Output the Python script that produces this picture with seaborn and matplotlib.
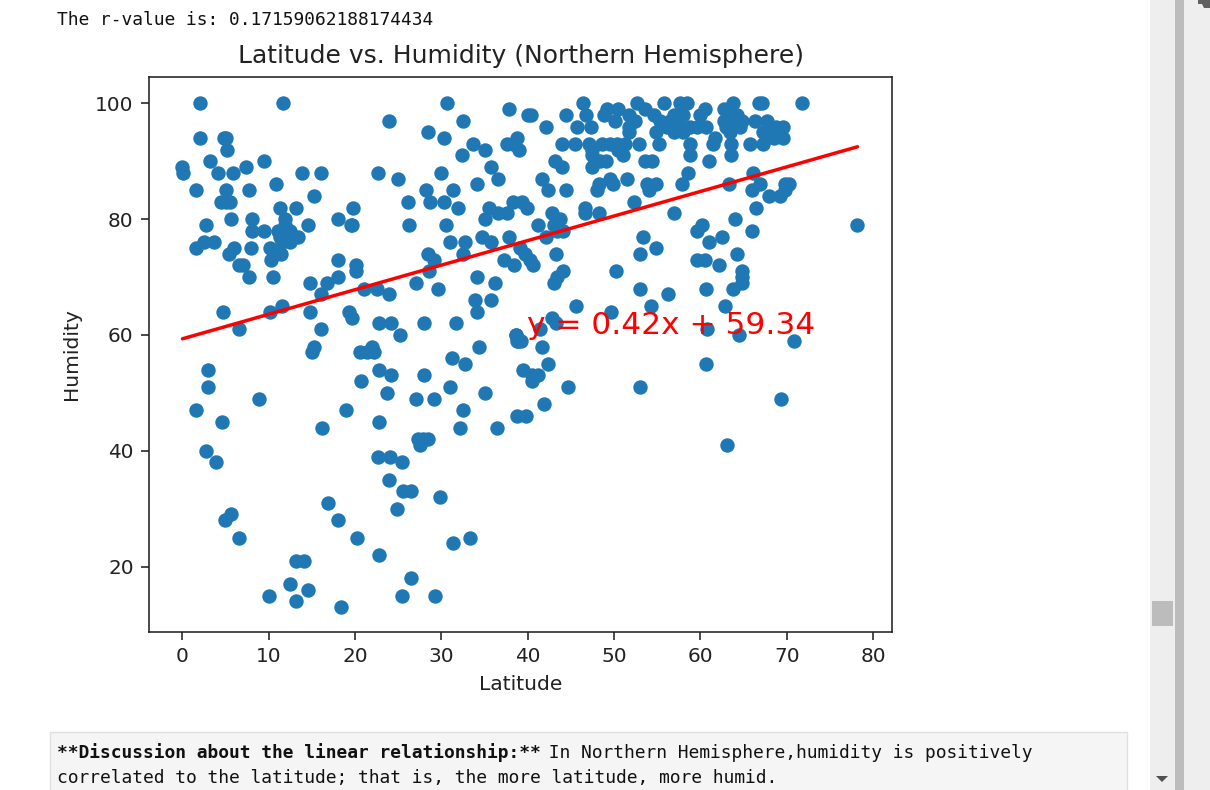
import matplotlib
matplotlib.use("Agg")
import matplotlib.pyplot as plt
from matplotlib.patches import Rectangle, Polygon
import numpy as np
import pandas as pd
import seaborn as sns

# west part of the cloud, upper half
lat_a = [2.0,11.7,2.0,4.8,5.0,5.2,0.0,0.1,3.2,4.1,5.8,7.4,9.4,13.8,16.0,10.8,1.6,5.0,7.7,15.2,
         4.5,5.0,5.5,11.3,13.2,19.8,5.6,8.1,11.9,18.0,19.6,19.5,2.7,14.5,8.0,9.4,11.1,12.5,11.9,
         11.3,13.4,12.6,2.5,3.7,1.6,6.0,7.9,10.1,5.4,12.5,11.5,10.7,11.4,10.3,18.0,6.5,7.0,20.1,20.1,
         7.7,10.5,18.0,14.8,16.8,16.1,21.0,22.5,23.9,27.1,29.6,28.6,28.4,29.1,32.5,32.7,31.0,30.5,26.3,
         26.1,28.2,28.7,30.3,31.3,31.9,34.1,35.5,35.1,36.5,35.7,33.7,35.1,32.4,37.6,38.8,39.0,37.8,40.0,
         32.5,30.6,28.4,30.3,23.9,30.0,22.7,25.0,34.7,35.8,37.8,36.6,37.6,38.3,39.3,39.9,34.1,36.2,33.9,
         35.8,34.1,4.7,10.1,11.5,14.8,19.3,19.6,6.5,16.0,22.8,24.1,25.2,28.0,31.7,34.3,38.6,38.9,15.2,
         15.0,20.6,21.9,21.4,22.2]
hum_a = [100,100,94,94,94,92,89,88,90,88,88,89,90,88,88,86,85,85,85,84,
         83,83,83,82,82,82,80,80,80,80,79,79,79,79,78,78,78,78,79,
         77,77,77,76,76,75,75,75,75,74,76,76,74,74,73,73,72,72,72,71,
         70,70,70,69,69,67,68,68,67,69,68,71,74,73,74,76,76,79,79,
         83,85,83,83,85,82,86,82,80,87,89,93,92,91,93,94,92,99,98,
         97,100,95,94,97,88,88,87,77,76,77,81,81,83,83,82,70,69,66,
         66,64,64,64,65,64,64,63,61,61,62,62,60,62,62,58,60,59,58,
         57,57,58,57,57]

# west part of the cloud, lower half
lat_b = [2.9,2.9,8.9,1.6,4.6,2.7,3.9,5.6,4.9,6.5,13.1,14.1,12.4,14.5,10.0,13.1,18.4,16.2,19.0,22.8,
         20.7,23.7,22.8,24.2,28.0,27.1,29.1,31.0,31.2,32.7,35.0,32.5,32.2,36.4,38.8,39.8,39.5,40.5,
         27.3,28.4,27.5,27.9,22.6,24.0,25.4,23.9,25.6,26.5,29.8,24.9,16.9,18.0,20.2,22.8,26.5,25.4,
         29.3,31.3,33.3]
hum_b = [54,51,49,47,45,40,38,29,28,25,21,21,17,16,15,14,13,44,47,45,
         52,50,54,53,53,49,49,51,56,55,50,47,44,44,46,46,54,52,
         42,42,41,42,39,39,38,35,33,33,32,30,31,28,25,22,18,15,
         15,24,25]

# east part of the cloud
lat_c = [40.4,44.4,42.1,46.4,46.8,45.7,47.3,44.0,45.5,47.1,48.6,49.5,50.3,51.3,52.9,55.2,49.2,50.5,48.8,50.1,
         51.7,52.4,51.7,51.7,52.7,53.6,54.6,55.3,54.9,55.8,57.6,58.4,57.0,58.0,56.5,57.6,56.1,57.0,58.0,
         58.8,58.8,61.0,60.5,60.0,59.6,60.7,58.8,61.7,61.5,62.7,63.8,63.2,64.2,62.7,63.6,64.8,63.0,64.6,63.4,
         63.5,63.6,65.8,66.8,67.1,66.3,67.7,67.3,67.3,68.8,69.6,68.6,69.6,68.5,71.8,47.5,47.5,48.4,49.1,47.5,47.8,
         51.0,50.5,53.6,54.4,43.2,44.0,58.6,57.9,66.1,66.9,66.0,63.3,41.6,42.3,44.4,48.2,48.0,49.5,49.9,51.5,
         53.8,54.1,54.9,52.3,46.6,46.6,48.2,42.8,43.7,41.2,42.1,43.0,44.1,43.4,43.3,39.7,40.6,40.3,
         44.1,43.0,43.4,57.0,66.4,64.0,60.2,59.6,66.0,53.4,54.9,53.0,62.5,61.0,64.3,59.6,60.5,62.2,50.2,
         64.8,64.8,64.8,63.8,60.7,53.0,56.3,54.3,62.9,45.6,49.7,42.8,43.3,41.4,39.2,41.7,60.8,64.5,70.9,
         42.4,60.7,78.2,67.9,69.2,69.8,69.8,70.3]
hum_c = [98,98,96,100,98,96,96,93,93,93,93,93,93,93,93,93,99,99,98,97,
         98,97,96,95,100,99,98,97,95,100,100,100,98,98,97,96,96,95,95,
         93,91,90,99,98,96,96,96,94,93,99,100,98,98,97,97,97,96,96,95,
         93,91,93,100,100,97,97,95,93,96,96,95,94,94,100,91,89,90,90,92,90,
         91,92,90,90,90,89,88,86,88,86,85,86,87,85,85,86,85,87,86,87,
         86,85,86,83,82,81,81,81,80,79,77,79,78,78,74,74,72,73,
         71,69,70,81,82,80,79,78,78,77,75,74,77,76,74,73,73,72,71,
         71,70,69,68,68,68,67,65,65,65,64,63,62,61,59,58,61,60,59,
         55,55,79,84,84,85,86,86]

# remaining scattered points
lat_d = [53.0,63.1,69.3,44.7,41.9,38.6,38.8,40.5,41.2,37.2,38.4,39.1,38.3]
hum_d = [51,41,49,51,48,60,59,53,53,73,72,75,93]

fit_lat = [0.0, 78.2]
fit_hum = [59.34, 92.5]
equation = "y = 0.42x + 59.34"
rvalue_text = "The r-value is: 0.17159062188174434"
title = "Latitude vs. Humidity (Northern Hemisphere)"
x_ticks = [0, 10, 20, 30, 40, 50, 60, 70, 80]
y_ticks = [20, 40, 60, 80, 100]
note_bold = "**Discussion about the linear relationship:**"
note_rest = " In Northern Hemisphere,humidity is positively"
note_line2 = "correlated to the latitude; that is, the more latitude, more humid."

W, H = 1210, 790
sns.set_theme(style="ticks", rc={"axes.grid": False})
plt.rcParams["font.family"] = ["DejaVu Sans"]

df = pd.DataFrame({"Latitude": lat_a + lat_b + lat_c + lat_d,
                   "Humidity": hum_a + hum_b + hum_c + hum_d})
fit = pd.DataFrame({"Latitude": fit_lat, "Humidity": fit_hum})

fig = plt.figure(figsize=(W / 100, H / 100), dpi=100, facecolor="white")


def rect(x0, y0, x1, y1, **kw):
    fig.add_artist(Rectangle((x0 / W, 1 - y1 / H), (x1 - x0) / W, (y1 - y0) / H,
                             transform=fig.transFigure, **kw))


def label(x, y, s, **kw):
    fig.text(x / W, 1 - y / H, s, va="center", ha="left", **kw)


def shape(points, color):
    fig.add_artist(Polygon([(x / W, 1 - y / H) for x, y in points],
                           transform=fig.transFigure, facecolor=color, edgecolor="none"))


# notebook chrome
rect(1150, 0, 1210, 790, facecolor="#eeeeee", edgecolor="none")
rect(1175, 0, 1184, 790, facecolor="#bcbcbc", edgecolor="none")
rect(1152, 601, 1173, 626, facecolor="#bcbcbc", edgecolor="none")
shape([(1156, 776), (1168, 776), (1162, 782)], "#505050")
shape([(1198, 0), (1210, 0), (1210, 8), (1204, 8), (1202, 4), (1198, 4)], "#606060")
rect(49.5, 731.5, 1126.5, 800, facecolor="#f5f5f5", edgecolor="#e0e0e0", linewidth=1)

mono = {"family": "DejaVu Sans Mono", "fontsize": 12.85, "color": "#111111"}
label(57, 20, rvalue_text, **mono)
label(57, 753, note_bold, fontweight="bold", **mono)
label(57 + len(note_bold) * 10.7, 753, note_rest, **mono)
label(57, 778, note_line2, **mono)

ax = fig.add_axes([149 / W, 1 - 632 / H, (892 - 149) / W, (632 - 77) / H])
sns.scatterplot(data=df, x="Latitude", y="Humidity", color="#1f77b4", s=108,
                linewidth=0, ax=ax, clip_on=True)
sns.lineplot(data=fit, x="Latitude", y="Humidity", color="red", linewidth=2.5,
             ax=ax, errorbar=None, sort=False)
ax.text(39.9, 60.2, equation, color="red", fontsize=22.5, ha="left", va="baseline")

ax.set_xlim(-3.88, 82.2)
ax.set_ylim(8.7, 104.55)
ax.set_xticks(x_ticks)
ax.set_yticks(y_ticks)
ax.tick_params(labelsize=14.4, width=1.15, length=5.5, pad=5.5,
               color="#222222", labelcolor="#222222")
ax.set_title(title, fontsize=18, color="#222222", pad=10)
ax.set_xlabel("Latitude", fontsize=14.6, color="#222222", labelpad=6)
ax.set_ylabel("Humidity", fontsize=14.6, color="#222222", labelpad=10)
for s in ax.spines.values():
    s.set_visible(True)
    s.set_linewidth(1.15)
    s.set_color("#222222")

fig.savefig("out.png", dpi=100)
